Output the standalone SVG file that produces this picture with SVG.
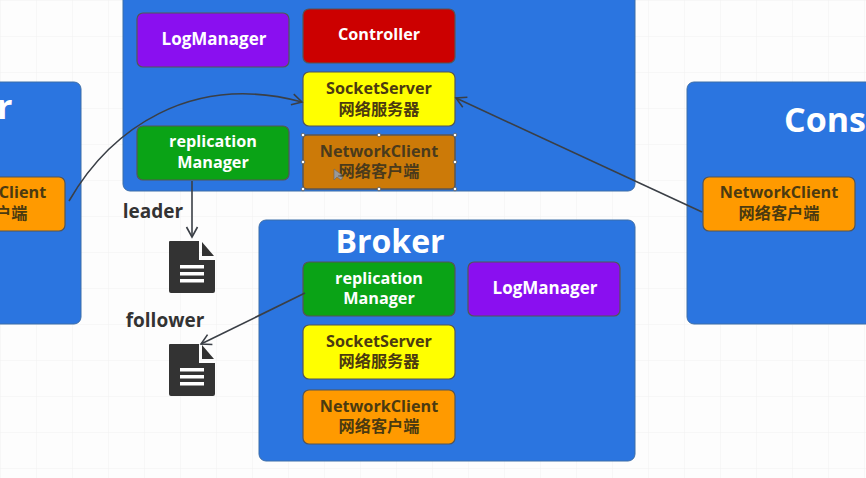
<svg xmlns="http://www.w3.org/2000/svg" width="866" height="478" viewBox="0 0 866 478">
<style>
text{font-family:"Open Sans","Noto Sans CJK SC",sans-serif;font-weight:700;text-anchor:middle}
.c{fill:#2b75e0;stroke:#3d6ea8;stroke-width:1}
.n{stroke:#555;stroke-width:1.2}
.t{font-size:16.200px;fill:#4b3a10}
.g{fill:#fff;font-size:16.200px}
.lm{fill:#fff;font-size:17px}
.y{fill:#ffff00}.o{fill:#ff9a00}.p{fill:#8a0ff0}.r{fill:#cc0000}.gr{fill:#0aa316}
.l{font-size:19px;fill:#333}
.big{font-size:34px;fill:#fff}
.e{fill:none;stroke:#3a3f46;stroke-width:1.6}
.d{fill:#333}
.dl{fill:#fff}
</style>
<defs>
<marker id="a" markerUnits="userSpaceOnUse" markerWidth="16" markerHeight="16" refX="13" refY="8" orient="auto"><path d="M3 2.500L13 8L3 13.500" fill="none" stroke="#3a3f46" stroke-width="1.600"/></marker>
<pattern id="grid" width="36" height="36" patternUnits="userSpaceOnUse"><path d="M36 0H0V36" fill="none" stroke="#f1f1f1" stroke-width="1"/></pattern>
<g id="doc"><path class="d" d="M1 0H30V19H46V50Q46 52 44 52H2Q0 52 0 50V1Q0 0 1 0Z"/><path class="d" d="M33 1L45 15H33Z"/><rect class="dl" x="11" y="24" width="24" height="3.500"/><rect class="dl" x="11" y="31" width="24" height="3.500"/><rect class="dl" x="11" y="38" width="24" height="3.500"/></g>
</defs>
<rect width="866" height="478" fill="#fdfdfd"/>
<rect width="866" height="478" fill="url(#grid)"/>

<g id="producer">
<rect class="c" x="-30" y="82" width="111" height="242" rx="7"/>
<text class="big" x="-3" y="119" style="text-anchor:start">r</text>
<rect class="n o" x="-90" y="177" width="155" height="54" rx="6"/>
<text class="t" x="-13" y="198">NetworkClient</text>
<text class="t" x="-13" y="219">网络客户端</text>
</g>
<g id="broker-leader">
<rect class="c" x="123" y="-20" width="512" height="211" rx="7"/>
</g>
<g id="leader-logmanager"><rect class="n p" x="137" y="13" width="152" height="54" rx="6"/><text class="lm" x="214" y="45">LogManager</text></g>
<g id="leader-controller"><rect class="n r" x="303" y="9" width="152" height="54" rx="6"/><text class="g" x="379" y="40">Controller</text></g>
<g id="leader-socketserver"><rect class="n y" x="303" y="72" width="152" height="54" rx="6"/><text class="t" x="379" y="94">SocketServer</text><text class="t" x="379" y="115">网络服务器</text></g>
<g id="leader-replication"><rect class="n gr" x="137" y="126" width="152" height="54" rx="6"/><text class="g" x="213" y="147">replication</text><text class="g" x="213" y="168">Manager</text></g>
<g id="leader-networkclient"><rect x="303" y="135" width="152" height="54" rx="4" fill="#cc7a08" stroke="#5c5650" stroke-width="1.500"/><text class="t" x="379" y="157" style="fill:#4a3a1c">NetworkClient</text><text class="t" x="379" y="177" style="fill:#4a3a1c">网络客户端</text>
<g fill="#fff" stroke="#555" stroke-width=".8"><circle cx="303" cy="135" r="1.800"/><circle cx="379" cy="135" r="1.800"/><circle cx="455" cy="135" r="1.800"/><circle cx="303" cy="162" r="1.800"/><circle cx="455" cy="162" r="1.800"/><circle cx="303" cy="189" r="1.800"/><circle cx="379" cy="189" r="1.800"/><circle cx="455" cy="189" r="1.800"/></g>
<path d="M334 169V180L337 177L341 180L343 177L338 176L342 175Z" fill="#999" stroke="#666" stroke-width=".6"/></g>

<g id="broker-follower">
<rect class="c" x="259" y="220" width="376" height="241" rx="7"/>
<text class="big" x="390" y="253" style="font-size:32px">Broker</text>
</g>
<g id="follower-replication"><rect class="n gr" x="303" y="262" width="152" height="54" rx="6"/><text class="g" x="379" y="284">replication</text><text class="g" x="379" y="304">Manager</text></g>
<g id="follower-logmanager"><rect class="n p" x="468" y="262" width="152" height="54" rx="6"/><text class="lm" x="545" y="294">LogManager</text></g>
<g id="follower-socketserver"><rect class="n y" x="303" y="325" width="152" height="54" rx="6"/><text class="t" x="379" y="347">SocketServer</text><text class="t" x="379" y="367">网络服务器</text></g>
<g id="follower-networkclient"><rect class="n o" x="303" y="390" width="152" height="54" rx="6"/><text class="t" x="379" y="412">NetworkClient</text><text class="t" x="379" y="432">网络客户端</text></g>

<g id="consumer">
<rect class="c" x="687" y="82" width="200" height="242" rx="7"/>
<text class="big" x="784" y="132" style="text-anchor:start">Cons</text>
<rect class="n o" x="703" y="177" width="152" height="54" rx="6"/>
<text class="t" x="779" y="198">NetworkClient</text>
<text class="t" x="779" y="219">网络客户端</text>
</g>

<g id="leader-log"><text class="l" x="153" y="218">leader</text><use href="#doc" x="169" y="241"/></g>
<g id="follower-log"><text class="l" x="165" y="327">follower</text><use href="#doc" x="169" y="344"/></g>

<g id="connectors">
<path class="e" d="M69 201C110 130 190 72 302 102" marker-end="url(#a)"/>
<path class="e" d="M702 212L456 98" marker-end="url(#a)"/>
<path class="e" d="M192 181V237" marker-end="url(#a)"/>
<path class="e" d="M305 293L201 344" marker-end="url(#a)"/>
</g>
</svg>
